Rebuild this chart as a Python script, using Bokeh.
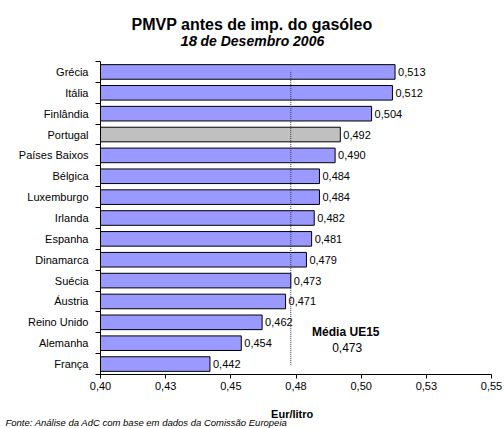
from bokeh.plotting import figure
from bokeh.layouts import column
from bokeh.models import FixedTicker, Label, ColumnDataSource, Range1d
from bokeh.embed import file_html
from bokeh.resources import INLINE
from bokeh.core.properties import value

countries = ["Grécia", "Itália", "Finlândia", "Portugal", "Países Baixos", "Bélgica",
             "Luxemburgo", "Irlanda", "Espanha", "Dinamarca", "Suécia", "Áustria",
             "Reino Unido", "Alemanha", "França"]
prices = [0.513, 0.512, 0.504, 0.492, 0.490, 0.484, 0.484, 0.482, 0.481, 0.479,
          0.473, 0.471, 0.462, 0.454, 0.442]
highlight = "Portugal"
eu15_average = 0.473
x_ticks = [0.400, 0.425, 0.450, 0.475, 0.500, 0.525, 0.550]
x_tick_labels = ["0,40", "0,43", "0,45", "0,48", "0,50", "0,53", "0,55"]
title_text = "PMVP antes de imp. do gasóleo"
subtitle_day = "18"
subtitle_rest = "de Desembro 2006"
x_label = "Eur/litro"
avg_label = "Média UE15"
source_note = "Fonte: Análise da AdC com base em dados da Comissão Europeia"

FONT = "Liberation Sans"
W = 504
HEADER_H = 61
MAIN_H = 338
FOOTER_H = 29

n = len(countries)
ys = [n - 0.5 - i for i in range(n)]
colors = ["#C0C0C0" if c == highlight else "#9999FF" for c in countries]
labels = [f"{v:.3f}".replace(".", ",") for v in prices]
src = ColumnDataSource(dict(y=ys, price=prices, color=colors, label=labels))


def text_panel(height, top):
    f = figure(width=W, height=height, output_backend="svg", toolbar_location=None,
               x_range=Range1d(0, W), y_range=Range1d(top + height, top),
               x_axis_type=None, y_axis_type=None, min_border=0, frame_align=False,
               background_fill_color="white", border_fill_color="white")
    f.outline_line_color = None
    f.grid.visible = False
    return f


def put(f, x, y, text, size, style="normal", align="center"):
    f.text(x=[x], y=[y], text=[text], text_align=align, text_baseline="alphabetic",
           text_font=value(FONT), text_font_size=size, text_font_style=style,
           text_color="#000000")


# header
head = text_panel(HEADER_H, 0)
put(head, 251.5, 24, title_text, "16px", "bold")
put(head, 196.7, 40.7, subtitle_day, "15px", "bold italic", "right")
put(head, 200, 40.7, subtitle_rest, "14px", "bold italic", "left")

# main chart
p = figure(width=W, height=MAIN_H, output_backend="svg", toolbar_location=None,
           x_range=Range1d(x_ticks[0], x_ticks[-1]), y_range=Range1d(0, n),
           min_border_left=100, min_border_right=13, min_border_top=0, min_border_bottom=25,
           frame_align=False,
           background_fill_color="white", border_fill_color="white")
p.outline_line_color = None
p.xgrid.visible = False
p.ygrid.visible = False

p.hbar(y="y", left=x_ticks[0], right="price", height=0.7, fill_color="color",
       line_color="#000000", line_width=1, source=src)
p.text(x="price", y="y", text="label", x_offset=3, text_baseline="middle",
       text_align="left", text_font=value(FONT), text_font_size="11px",
       text_color="#000000", source=src)
p.segment(x0=eu15_average, y0=0.45, x1=eu15_average, y1=n - 0.45,
          line_dash="1 1", line_color="#333333", line_width=1)

xa = p.xaxis[0]
xa.ticker = FixedTicker(ticks=x_ticks)
xa.major_label_overrides = {t: l for t, l in zip(x_ticks, x_tick_labels)}
xa.axis_line_color = "#000000"
xa.major_tick_line_color = "#000000"
xa.major_tick_out = 4
xa.major_tick_in = 0
xa.minor_tick_out = 0
xa.minor_tick_in = 0
xa.major_label_standoff = 3
xa.major_label_text_font = FONT
xa.major_label_text_font_size = "11px"
xa.major_label_text_color = "#000000"

ya = p.yaxis[0]
ya.ticker = FixedTicker(ticks=ys, minor_ticks=list(range(n + 1)))
ya.major_label_overrides = {y: c for y, c in zip(ys, countries)}
ya.axis_line_color = "#000000"
ya.major_tick_out = 0
ya.major_tick_in = 0
ya.minor_tick_out = 5
ya.minor_tick_in = 0
ya.minor_tick_line_color = "#000000"
ya.major_label_standoff = 7
ya.major_label_text_font = FONT
ya.major_label_text_font_size = "11px"
ya.major_label_text_color = "#000000"

for x, y, txt, style in [(245.3, 43, avg_label, "bold"),
                         (246.7, 27, f"{eu15_average:.3f}".replace(".", ","), "normal")]:
    p.add_layout(Label(x=x, y=y, x_units="screen", y_units="screen", text=txt,
                       text_align="center", text_baseline="alphabetic",
                       text_font=FONT, text_font_size="12px", text_font_style=style,
                       text_color="#000000"))

# footer
foot = text_panel(FOOTER_H, HEADER_H + MAIN_H)
put(foot, 291.7, 413.5, x_label, "11px", "bold")
put(foot, 5, 421.5, source_note, "9.5px", "italic", "left")

layout = column(head, p, foot, spacing=0)
open("out.html", "w").write(file_html(layout, INLINE))
